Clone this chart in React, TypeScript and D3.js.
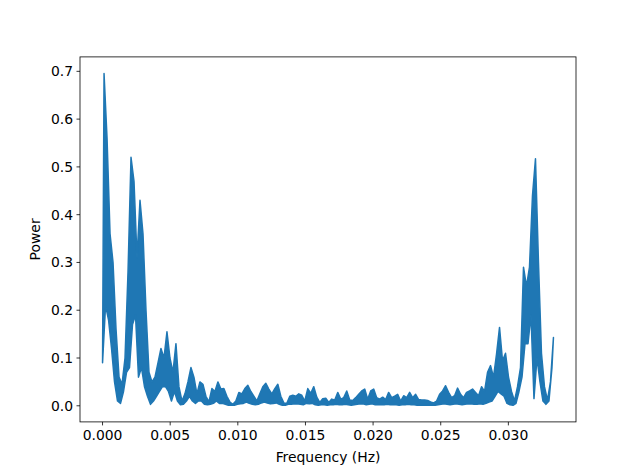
import { useEffect, useRef } from 'react';
import * as d3 from 'd3';

// Periodogram: the trace is so dense it fills a band, so it
// is kept as a lower and an upper envelope sampled on the frequency grid.
const NYQUIST = 1 / 30;

const lower = [
  0.09, 0.21, 0.18, 0.12, 0.05, 0.01, 0.005, 0.03, 0.07, 0.08,
  0.17, 0.19, 0.06, 0.08, 0.04, 0.02, 0.003, 0.01, 0.02, 0.03,
  0.04, 0.04, 0.03, 0.01, 0.03, 0.01, 0.002, 0.003, 0.01, 0.02,
  0.01, 0.005, 0.01, 0.01, 0.003, 0.002, 0.003, 0.005, 0.01, 0.005,
  0.005, 0.003, 0.001, 0.001, 0.001, 0.003, 0.004, 0.005, 0.008, 0.005,
  0.003, 0.002, 0.003, 0.006, 0.008, 0.006, 0.004, 0.005, 0.006, 0.003,
  0.001, 0.001, 0.003, 0.003, 0.004, 0.004, 0.003, 0.002, 0.005, 0.004,
  0.005, 0.002, 0.001, 0.002, 0.002, 0.001, 0.002, 0.002, 0.003, 0.002,
  0.002, 0.003, 0.002, 0.001, 0.002, 0.003, 0.004, 0.004, 0.002, 0.003,
  0.004, 0.002, 0.002, 0.002, 0.002, 0.003, 0.002, 0.002, 0.002, 0.001,
  0.002, 0.002, 0.003, 0.002, 0.002, 0.001, 0.001, 0.001, 0.001, 0.001,
  0.001, 0.001, 0.002, 0.003, 0.004, 0.003, 0.002, 0.003, 0.004, 0.003,
  0.002, 0.003, 0.004, 0.004, 0.003, 0.003, 0.004, 0.003, 0.005, 0.008,
  0.01, 0.02, 0.03, 0.025, 0.02, 0.005, 0.002, 0.001, 0.005, 0.03,
  0.06, 0.13, 0.13, 0.19, 0.015, 0.1, 0.05, 0.01, 0.003, 0.01,
  0.08,
];

const upper = [
  0.6955, 0.56, 0.36, 0.3, 0.16, 0.06, 0.045, 0.1, 0.28, 0.52,
  0.47, 0.31, 0.43, 0.36, 0.2, 0.07, 0.05, 0.06, 0.09, 0.12,
  0.1, 0.155, 0.1, 0.07, 0.13, 0.04, 0.01, 0.025, 0.05, 0.08,
  0.06, 0.025, 0.05, 0.045, 0.02, 0.008, 0.036, 0.03, 0.05, 0.035,
  0.036, 0.02, 0.008, 0.003, 0.01, 0.028, 0.025, 0.036, 0.043, 0.03,
  0.02, 0.01, 0.025, 0.04, 0.047, 0.035, 0.025, 0.036, 0.045, 0.02,
  0.006, 0.005, 0.02, 0.022, 0.02, 0.025, 0.022, 0.01, 0.036, 0.026,
  0.04, 0.018, 0.007, 0.015, 0.016, 0.007, 0.014, 0.012, 0.028, 0.014,
  0.017, 0.031, 0.012, 0.011, 0.017, 0.024, 0.031, 0.035, 0.014, 0.031,
  0.035, 0.017, 0.014, 0.018, 0.013, 0.028, 0.017, 0.02, 0.024, 0.01,
  0.021, 0.017, 0.028, 0.017, 0.024, 0.013, 0.012, 0.012, 0.011, 0.008,
  0.006, 0.01, 0.024, 0.031, 0.042, 0.028, 0.017, 0.021, 0.037, 0.024,
  0.017, 0.028, 0.031, 0.035, 0.028, 0.021, 0.04, 0.03, 0.07, 0.084,
  0.06, 0.108, 0.164, 0.094, 0.11, 0.06, 0.03, 0.01, 0.04, 0.08,
  0.29, 0.25, 0.29, 0.44, 0.517, 0.3, 0.11, 0.04, 0.012, 0.05,
  0.143,
];

const xTicks = [0, 0.005, 0.01, 0.015, 0.02, 0.025, 0.03];
const yTicks = [0, 0.1, 0.2, 0.3, 0.4, 0.5, 0.6, 0.7];

interface Bin {
  fLo: number;
  fHi: number;
  lo: number;
  hi: number;
}

export default function App() {
  const svgRef = useRef<SVGSVGElement>(null);

  useEffect(() => {
    if (!svgRef.current) return;
    const W = 640;
    const H = 474;
    const left = 80;
    const right = 576;
    const top = 56.9;
    const bottom = 421.9;

    const svg = d3.select(svgRef.current);
    svg.selectAll('*').remove();

    // lower value at the even grid step, upper one at the odd step
    const n = lower.length * 2;
    const df = NYQUIST / (n - 1);
    const bins: Bin[] = lower.map((lo, i) => ({
      fLo: 2 * i * df,
      fHi: (2 * i + 1) * df,
      lo,
      hi: upper[i],
    }));

    const fMin = d3.min(bins, (d) => d.fLo) ?? 0;
    const fMax = d3.max(bins, (d) => d.fHi) ?? NYQUIST;
    const pMin = d3.min(bins, (d) => d.lo) ?? 0;
    const pMax = d3.max(bins, (d) => d.hi) ?? 0.7;
    const mx = (fMax - fMin) * 0.05;
    const my = (pMax - pMin) * 0.05;
    const x = d3.scaleLinear().domain([fMin - mx, fMax + mx]).range([left, right]);
    const y = d3.scaleLinear().domain([pMin - my, pMax + my]).range([bottom, top]);

    const font = 'DejaVu Sans, sans-serif';
    const blue = '#1f77b4';

    const band = d3
      .area<Bin>()
      .x0((d) => x(d.fLo))
      .x1((d) => x(d.fHi))
      .y0((d) => y(d.lo))
      .y1((d) => y(d.hi));

    svg
      .append('path')
      .datum(bins)
      .attr('fill', blue)
      .attr('stroke', blue)
      .attr('stroke-width', 1.5)
      .attr('stroke-linejoin', 'round')
      .attr('d', band);

    // frame
    svg
      .append('rect')
      .attr('x', left)
      .attr('y', top)
      .attr('width', right - left)
      .attr('height', bottom - top)
      .attr('fill', 'none')
      .attr('stroke', '#000')
      .attr('stroke-width', 0.8);

    // x ticks
    const gx = svg.append('g');
    xTicks.forEach((t) => {
      gx.append('line')
        .attr('x1', x(t)).attr('x2', x(t))
        .attr('y1', bottom).attr('y2', bottom + 3.5)
        .attr('stroke', '#000').attr('stroke-width', 0.8);
      gx.append('text')
        .attr('x', x(t))
        .attr('y', bottom + 18)
        .attr('text-anchor', 'middle')
        .attr('font-family', font)
        .attr('font-size', '13.9px')
        .text(t.toFixed(3));
    });

    // y ticks
    const gy = svg.append('g');
    yTicks.forEach((t) => {
      gy.append('line')
        .attr('x1', left - 3.5).attr('x2', left)
        .attr('y1', y(t)).attr('y2', y(t))
        .attr('stroke', '#000').attr('stroke-width', 0.8);
      gy.append('text')
        .attr('x', left - 7)
        .attr('y', y(t) + 5)
        .attr('text-anchor', 'end')
        .attr('font-family', font)
        .attr('font-size', '13.9px')
        .text(t.toFixed(1));
    });

    svg
      .append('text')
      .attr('x', (left + right) / 2)
      .attr('y', H - 12)
      .attr('text-anchor', 'middle')
      .attr('font-family', font)
      .attr('font-size', '13.9px')
      .text('Frequency (Hz)');

    svg
      .append('text')
      .attr('transform', `translate(40,${(top + bottom) / 2}) rotate(-90)`)
      .attr('text-anchor', 'middle')
      .attr('font-family', font)
      .attr('font-size', '13.9px')
      .text('Power');

    svg.attr('width', W).attr('height', H);
  }, []);

  return (
    <svg
      ref={svgRef}
      width={640}
      height={474}
      style={{ position: 'absolute', left: 0, top: 0, background: '#fff' }}
    />
  );
}
